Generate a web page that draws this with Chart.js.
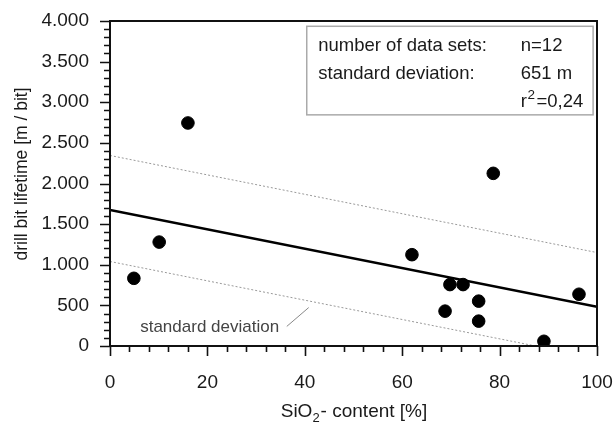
<!DOCTYPE html>
<html>
<head>
<meta charset="utf-8">
<script src="https://cdn.jsdelivr.net/npm/chart.js@4"></script>
<style>
  body { margin: 0; background: #fff; }
  #wrap { width: 613px; height: 423px; }
</style>
</head>
<body>
<div id="wrap"><canvas id="myChart" width="613" height="423"></canvas></div>
<script>
// SiO2 content [%] vs drill bit lifetime [m / bit]
const silica   = [4.9, 10.1, 16.0, 62.0, 69.8, 72.5, 75.7, 68.8, 75.7, 89.1, 96.3, 78.7];
const lifetime = [833, 1279, 2745, 1124, 756, 756, 552, 429, 306, 58, 637, 2125];

// regression line and +/- standard deviation band
const fitX   = [0, 100];
const fitY   = [1675, 483];
const upperX = [0, 100];
const upperY = [2345, 1150];
const lowerX = [0, 87.4];
const lowerY = [1040, 0];

const infoRows = [
    ['number of data sets:', 'n=12'],
    ['standard deviation:', '651 m'],
    ['', 'r2=0,24']
];

const FONT = '"Liberation Sans", Arial, sans-serif';

function toPoints(xs, ys) {
    return xs.map((x, i) => ({ x: x, y: ys[i] }));
}

function fmt(v) {
    return String(v).replace(/\B(?=(\d{3})+(?!\d))/g, '.');
}

// no extra room for overflowing tick labels, the layout padding handles it
function noPad(s) {
    s.paddingLeft = 0;
    s.paddingRight = 0;
    s.paddingTop = 0;
    s.paddingBottom = 0;
}

// frame, tick marks, axis titles, info box and the "standard deviation" note
const decorations = {
    id: 'decorations',
    afterDatasetsDraw(chart) {
        const ctx = chart.ctx;
        const a = chart.chartArea;
        const xs = chart.scales.x;
        const ys = chart.scales.y;
        ctx.save();

        // tick marks
        ctx.strokeStyle = '#111';
        ctx.lineWidth = 1.6;
        ctx.beginPath();
        for (let v = 0; v <= 4000; v += 100) {
            const py = Math.round(ys.getPixelForValue(v)) + 0.5;
            const len = v % 500 === 0 ? 10 : 6;
            ctx.moveTo(a.left - len, py);
            ctx.lineTo(a.left, py);
        }
        for (let v = 0; v <= 100; v += 4) {
            const px = Math.round(xs.getPixelForValue(v)) + 0.5;
            const len = v % 20 === 0 ? 10 : 6;
            ctx.moveTo(px, a.bottom);
            ctx.lineTo(px, a.bottom + len);
        }
        ctx.stroke();

        // frame
        ctx.lineWidth = 2;
        ctx.strokeStyle = '#111';
        ctx.strokeRect(a.left, a.top, a.right - a.left, a.bottom - a.top);

        // note with leader line
        const nx = xs.getPixelForValue(6.2);
        const ny = ys.getPixelForValue(170);
        ctx.fillStyle = '#444';
        ctx.font = '17px ' + FONT;
        ctx.textBaseline = 'alphabetic';
        ctx.textAlign = 'left';
        ctx.fillText('standard deviation', nx, ny);
        ctx.strokeStyle = '#888';
        ctx.lineWidth = 1;
        ctx.beginPath();
        ctx.moveTo(xs.getPixelForValue(36.3), ys.getPixelForValue(241));
        ctx.lineTo(xs.getPixelForValue(40.8), ys.getPixelForValue(473));
        ctx.stroke();

        // info box
        const bx = xs.getPixelForValue(40.4);
        const by = ys.getPixelForValue(3935);
        const bw = xs.getPixelForValue(99.2) - bx;
        const bh = ys.getPixelForValue(2845) - by;
        ctx.fillStyle = '#fff';
        ctx.fillRect(bx, by, bw, bh);
        ctx.strokeStyle = '#aaa';
        ctx.lineWidth = 1.5;
        ctx.strokeRect(bx, by, bw, bh);
        ctx.fillStyle = '#1a1a1a';
        ctx.font = '18.5px ' + FONT;
        infoRows.forEach((row, i) => {
            const ty = by + 25 + i * 27.8;
            ctx.fillText(row[0], bx + 11.5, ty);
            if (row[1].startsWith('r2')) {
                let px = bx + 214;
                ctx.fillText('r', px, ty);
                px += ctx.measureText('r').width + 0.5;
                ctx.font = '13.5px ' + FONT;
                ctx.fillText('2', px, ty - 7.5);
                px += ctx.measureText('2').width + 1.5;
                ctx.font = '18.5px ' + FONT;
                ctx.fillText(row[1].slice(2), px, ty);
            } else {
                ctx.fillText(row[1], bx + 214, ty);
            }
        });

        // x axis title with subscript
        const tSize = 19;
        ctx.font = tSize + 'px ' + FONT;
        const p1 = 'SiO', p2 = '2', p3 = '- content [%]';
        const w1 = ctx.measureText(p1).width;
        const w3 = ctx.measureText(p3).width;
        ctx.font = '13px ' + FONT;
        const w2 = ctx.measureText(p2).width + 1;
        let tx = 354 - (w1 + w2 + w3) / 2;
        const ty = 417;
        ctx.font = tSize + 'px ' + FONT;
        ctx.fillText(p1, tx, ty);
        tx += w1;
        ctx.font = '13px ' + FONT;
        ctx.fillText(p2, tx, ty + 5);
        tx += w2;
        ctx.font = tSize + 'px ' + FONT;
        ctx.fillText(p3, tx, ty);

        // y axis title
        ctx.font = '17.5px ' + FONT;
        ctx.translate(27, 174);
        ctx.rotate(-Math.PI / 2);
        ctx.textAlign = 'center';
        ctx.fillText('drill bit lifetime [m / bit]', 0, 0);

        ctx.restore();
    }
};

const ctx = document.getElementById('myChart');

new Chart(ctx, {
    type: 'scatter',
    data: {
        datasets: [
            {
                label: 'data',
                data: toPoints(silica, lifetime),
                backgroundColor: '#000',
                borderColor: '#000',
                pointRadius: 6.3,
                order: 0
            },
            {
                label: 'regression',
                data: toPoints(fitX, fitY),
                showLine: true,
                borderColor: '#000',
                borderWidth: 2.6,
                pointRadius: 0,
                order: 1
            },
            {
                label: '+sd',
                data: toPoints(upperX, upperY),
                showLine: true,
                borderColor: '#999',
                borderWidth: 1,
                borderDash: [2, 2],
                pointRadius: 0,
                order: 2
            },
            {
                label: '-sd',
                data: toPoints(lowerX, lowerY),
                showLine: true,
                borderColor: '#999',
                borderWidth: 1,
                borderDash: [2, 2],
                pointRadius: 0,
                order: 2
            }
        ]
    },
    options: {
        responsive: false,
        animation: false,
        layout: { padding: { top: 21, right: 16, left: 0, bottom: 0 } },
        plugins: {
            legend: { display: false },
            tooltip: { enabled: false }
        },
        scales: {
            x: {
                type: 'linear',
                min: 0,
                max: 100,
                grid: { display: false, drawTicks: false },
                border: { display: false },
                ticks: {
                    stepSize: 20,
                    padding: 25,
                    color: '#1a1a1a',
                    font: { family: FONT, size: 19 }
                },
                afterFit: s => { s.height = 77; noPad(s); }
            },
            y: {
                min: 0,
                max: 4000,
                grid: { display: false, drawTicks: false },
                border: { display: false },
                ticks: {
                    stepSize: 500,
                    padding: 21,
                    color: '#1a1a1a',
                    font: { family: FONT, size: 19 },
                    callback: v => fmt(v)
                },
                afterFit: s => { s.width = 110; noPad(s); }
            }
        }
    },
    plugins: [decorations]
});
</script>
</body>
</html>
